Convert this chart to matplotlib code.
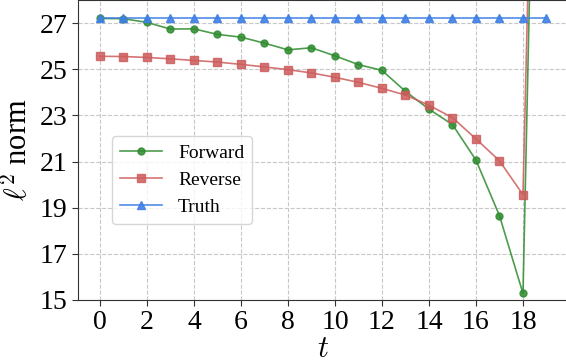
import matplotlib
matplotlib.use("Agg")
import matplotlib.pyplot as plt

t = list(range(20))
forward = [27.20, 27.19, 27.03, 26.74, 26.75, 26.51, 26.39, 26.13, 25.84, 25.93,
           25.58, 25.20, 24.95, 24.04, 23.27, 22.60, 21.06, 18.65, 15.28, 62.0]
reverse = [25.56, 25.55, 25.51, 25.45, 25.38, 25.31, 25.21, 25.10, 24.98, 24.84,
           24.65, 24.43, 24.17, 23.88, 23.44, 22.90, 21.98, 21.03, 19.56, 62.0]
truth = [27.22] * 20
yticks = [15, 17, 19, 21, 23, 25, 27]
xticks = list(range(0, 19, 2))

plt.rcParams['font.family'] = ['Liberation Serif', 'DejaVu Serif']
plt.rcParams['mathtext.fontset'] = 'cm'

fig = plt.figure(figsize=(5.66, 3.64), dpi=100)
ax = fig.add_axes([0.137, 0.176, 0.868, 0.824])

ax.plot(t, forward, color='#2e8b2e', marker='o', markersize=5, lw=1.2, alpha=0.85, label='Forward')
ax.plot(t, reverse, color='#cd5c5c', marker='s', markersize=5.5, lw=1.2, alpha=0.85, label='Reverse')
ax.plot(t, truth, color='#3f80e6', marker='^', markersize=6, lw=1.2, alpha=0.9, label='Truth')

ax.set_ylim(15, 28)
ax.set_xlim(-0.95, 19.95)
ax.set_yticks(yticks)
ax.set_xticks(xticks)
ax.tick_params(labelsize=20, length=4, color='#333333')
ax.grid(True, linestyle='--', color='#c8c8c8', lw=0.8)
for s in ax.spines.values():
    s.set_color('#333333')
ax.set_xlabel('$t$', fontsize=22, labelpad=0)
ax.set_ylabel(r'$\ell^2$ norm', fontsize=22, labelpad=4)
leg = ax.legend(loc='lower left', bbox_to_anchor=(0.07, 0.253), borderaxespad=0,
                fontsize=14, handlelength=2.2, frameon=True)
leg.get_frame().set_edgecolor('#cccccc')

fig.savefig('out.png', dpi=100)
